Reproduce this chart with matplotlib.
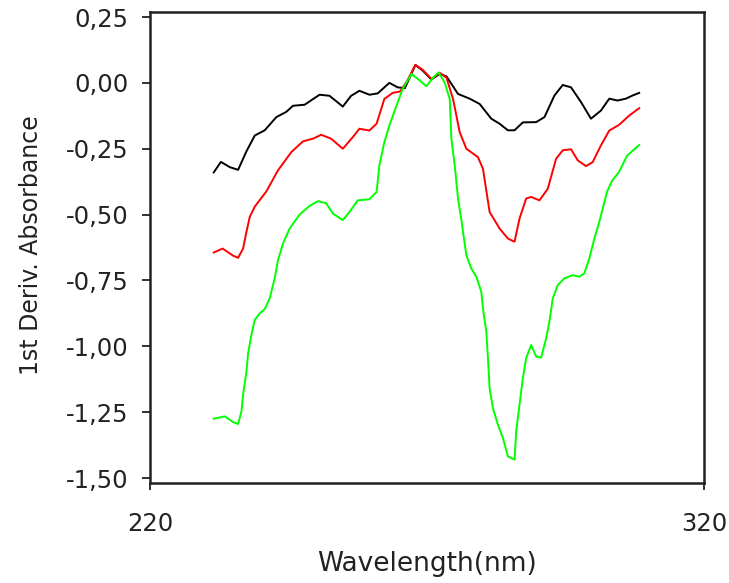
import matplotlib.pyplot as plt
from matplotlib.ticker import FuncFormatter

# values ---------------------------------------------------------

wl_black = [231.5, 232.8, 234.4, 235.9, 237.4, 238.9, 240.7, 242.8, 244.6, 245.8,
            247.9, 250.6, 252.4, 254.8, 256.3, 257.8, 259.6, 261.1, 263.2, 264.7,
            266.0, 267.9, 269.2, 270.8, 272.3, 273.5, 275.6, 277.7, 279.5, 281.6,
            283.1, 284.6, 285.8, 287.3, 289.7, 291.2, 293.0, 294.5, 296.0, 297.8,
            299.6, 301.4, 302.9, 304.4, 305.9, 307.1, 308.3]
abs_black = [-0.34, -0.30, -0.32, -0.33, -0.26, -0.20, -0.18, -0.13, -0.11, -0.087,
             -0.083, -0.045, -0.049, -0.09, -0.049, -0.03, -0.045, -0.04, 0.0, -0.017,
             -0.02, 0.068, 0.047, 0.013, 0.034, 0.025, -0.042, -0.06, -0.08, -0.136,
             -0.155, -0.18, -0.18, -0.15, -0.149, -0.13, -0.048, -0.008, -0.017, -0.073,
             -0.136, -0.105, -0.06, -0.067, -0.06, -0.048, -0.038]

wl_red = [231.5, 233.1, 235.0, 235.9, 236.8, 237.4, 238.0, 238.9, 241.0, 243.1,
          245.5, 247.6, 249.4, 250.9, 252.7, 254.8, 256.6, 257.8, 259.6, 260.9,
          262.3, 263.8, 265.1, 266.3, 267.9, 269.2, 270.8, 272.3, 273.5, 274.7,
          275.9, 277.1, 279.2, 280.1, 281.3, 283.1, 284.6, 285.8, 286.7, 287.9,
          288.8, 290.3, 291.8, 293.3, 294.5, 296.0, 297.2, 298.7, 299.9, 301.4,
          302.9, 304.7, 306.5, 308.3]
abs_red = [-0.644, -0.629, -0.656, -0.664, -0.629, -0.566, -0.509, -0.47, -0.412, -0.332,
           -0.263, -0.222, -0.212, -0.197, -0.212, -0.25, -0.206, -0.174, -0.181, -0.155,
           -0.061, -0.038, -0.033, 0.003, 0.068, 0.05, 0.015, 0.038, 0.02, -0.061,
           -0.187, -0.25, -0.282, -0.326, -0.49, -0.553, -0.591, -0.603, -0.515, -0.439,
           -0.433, -0.446, -0.402, -0.288, -0.256, -0.252, -0.294, -0.316, -0.301, -0.237,
           -0.181, -0.159, -0.124, -0.096]

wl_green = [231.5, 233.5, 235.0, 235.9, 236.5, 236.8, 237.4, 237.7, 238.3, 238.9,
            239.8, 240.7, 241.6, 242.5, 243.1, 244.0, 245.2, 247.0, 248.8, 250.3,
            251.8, 253.0, 254.8, 256.0, 257.5, 259.6, 260.9, 261.4, 262.3, 263.2,
            264.5, 265.6, 267.2, 268.7, 269.9, 271.1, 272.1, 273.2, 274.1, 274.4,
            275.0, 275.6, 276.2, 276.5, 277.1, 278.0, 278.9, 279.8, 280.1, 280.7,
            281.0, 281.3, 281.9, 282.8, 283.7, 284.6, 285.8, 286.1, 286.7, 287.3,
            287.9, 288.8, 289.7, 290.6, 291.5, 292.1, 292.7, 293.6, 294.8, 296.3,
            297.5, 298.4, 299.3, 300.2, 301.1, 302.5, 303.4, 304.7, 306.1, 307.9,
            308.3]
abs_green = [-1.275, -1.266, -1.288, -1.295, -1.247, -1.184, -1.096, -1.027, -0.957, -0.90,
             -0.875, -0.859, -0.818, -0.742, -0.673, -0.61, -0.553, -0.50, -0.467, -0.449,
             -0.457, -0.496, -0.521, -0.49, -0.446, -0.442, -0.414, -0.313, -0.225, -0.162,
             -0.086, -0.023, 0.034, 0.009, -0.013, 0.02, 0.04, 0.0, -0.061, -0.212,
             -0.313, -0.439, -0.52, -0.566, -0.654, -0.705, -0.736, -0.793, -0.856, -0.944,
             -1.045, -1.159, -1.235, -1.298, -1.348, -1.418, -1.43, -1.323, -1.222, -1.121,
             -1.045, -0.995, -1.039, -1.043, -0.97, -0.906, -0.818, -0.768, -0.742, -0.73,
             -0.736, -0.723, -0.667, -0.591, -0.528, -0.413, -0.372, -0.337, -0.277, -0.243,
             -0.236]

y_ticks = [0.25, 0.0, -0.25, -0.5, -0.75, -1.0, -1.25, -1.5]
x_ticks = [220, 320]

#-----------------------------------------------------

plt.rcParams['font.family'] = ['DejaVu Sans']

fig = plt.figure(figsize=(7.29, 5.83), dpi=100)
ax = fig.add_axes([0.2058, 0.1715, 0.7599, 0.8079])

ax.plot(wl_black, abs_black, color='#000000', lw=1.4)
ax.plot(wl_red, abs_red, color='#ff0000', lw=1.4)
ax.plot(wl_green, abs_green, color='#00ff00', lw=1.4)

ax.set_xlim(220, 319.8)
ax.set_ylim(-1.519, 0.269)
ax.set_xticks(x_ticks)
ax.set_yticks(y_ticks)
ax.yaxis.set_major_formatter(FuncFormatter(lambda v, p: ('%.2f' % v).replace('.', ',')))

for s in ax.spines.values():
    s.set_linewidth(1.8)
    s.set_color('#222222')

ax.tick_params(axis='y', direction='out', length=6, width=1.3, pad=9.5, labelsize=17.5, colors='#222222')
ax.tick_params(axis='x', direction='out', length=5, width=1.3, pad=16, labelsize=17.5, colors='#222222')

ax.set_xlabel('Wavelength(nm)', fontsize=19, color='#222222')
ax.set_ylabel('1st Deriv. Absorbance', fontsize=17, color='#222222')
ax.xaxis.set_label_coords(0.5, -0.144)
ax.yaxis.set_label_coords(-0.193, 0.505)

fig.savefig('out.png', dpi=100)
